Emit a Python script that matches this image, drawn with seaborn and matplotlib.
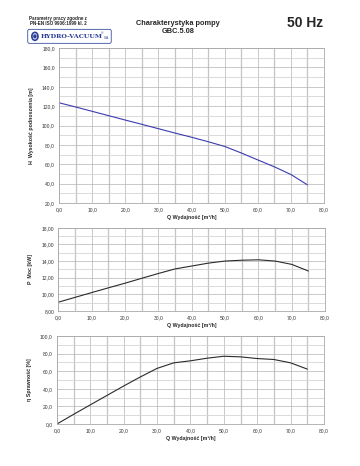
import matplotlib
matplotlib.use('Agg')
import matplotlib.pyplot as plt
import seaborn as sns
import pandas as pd
import numpy as np
from matplotlib.patches import FancyBboxPatch, Circle
from matplotlib.ticker import MultipleLocator, FuncFormatter

# Dane
q = [0, 5, 10, 15, 20, 25, 30, 35, 40, 45, 50, 55, 60, 65, 70, 75]
h = [123.5, 119.2, 114.7, 110.2, 105.7, 101.3, 96.8, 92.3, 88.0, 83.4, 78.5, 71.8, 64.6, 57.5, 49.6, 38.9]
p = [9.04, 9.62, 10.2, 10.77, 11.33, 11.92, 12.5, 13.05, 13.4, 13.75, 14.0, 14.1, 14.15, 14.0, 13.6, 12.8]
eta = [0.0, 11.0, 21.8, 32.5, 43.2, 53.5, 63.2, 69.5, 71.8, 74.8, 77.0, 76.3, 74.4, 73.3, 69.5, 62.4]

df = pd.DataFrame({'Q': q, 'H': h, 'P': p, 'eta': eta})

sns.set_style('white')
plt.rcParams['font.family'] = ['Liberation Sans', 'DejaVu Sans']

fig = plt.figure(figsize=(3.6, 4.66), dpi=100)

panels = [
    # kolumna, pozycja, zakres y, krok y, format, etykieta, kolor
    ('H', [0.164, 0.564, 0.736, 0.333], (20, 180), 20, 1, 'H  Wysokość podnoszenia [m]', '#3b3bb0'),
    ('P', [0.162, 0.333, 0.741, 0.178], (8, 18), 2, 2, 'P  Moc [kW]', '#2b2b2b'),
    ('eta', [0.158, 0.090, 0.742, 0.189], (0, 100), 20, 1, 'η Sprawność [%]', '#2b2b2b'),
]

def comma_fmt(dec):
    return FuncFormatter(lambda v, pos: f'{v:.{dec}f}'.replace('.', ','))

for col, rect, ylim, ystep, dec, ylabel, color in panels:
    ax = fig.add_axes(rect)
    sns.lineplot(data=df, x='Q', y=col, ax=ax, color=color, linewidth=0.8)
    ax.set_xlim(0, 80)
    ax.set_ylim(*ylim)
    ax.xaxis.set_major_locator(MultipleLocator(10))
    ax.xaxis.set_minor_locator(MultipleLocator(5))
    ax.yaxis.set_major_locator(MultipleLocator(ystep))
    ax.yaxis.set_minor_locator(MultipleLocator(ystep / 2))
    ax.xaxis.set_major_formatter(comma_fmt(1))
    ax.yaxis.set_major_formatter(comma_fmt(dec))
    ax.grid(True, which='major', color='#b4b4b4', linewidth=0.5)
    ax.grid(True, which='minor', axis='x', color='#c4c4c4', linewidth=0.9)
    ax.grid(True, which='minor', axis='y', color='#d4d4d4', linewidth=0.6)
    ax.set_axisbelow(True)
    ax.tick_params(which='both', length=0, labelsize=3.6, pad=3, colors='#333333')
    for s in ax.spines.values():
        s.set_color('#a8a8a8')
        s.set_linewidth(0.6)
    ax.set_xlabel('Q Wydajność [m³/h]', fontsize=3.8, fontweight='bold', labelpad=2)
    ax.set_ylabel(ylabel, fontsize=3.8, fontweight='bold', labelpad=6)

# Nagłówek
fig.text(0.081, 0.958, 'Parametry pracy zgodne z', fontsize=3.3, fontweight='bold')
fig.text(0.084, 0.946, 'PN-EN ISO 9906:1999 kl. 2', fontsize=3.3, fontweight='bold')
box = FancyBboxPatch((0.077, 0.907), 0.232, 0.030, boxstyle='round,pad=0,rounding_size=0.004',
                     transform=fig.transFigure, facecolor='white', edgecolor='#3a4fa0', linewidth=0.6)
fig.patches.append(box)
fig.patches.append(Circle((0.097, 0.922), 0.0085, transform=fig.transFigure,
                          facecolor='white', edgecolor='#2b3f95', linewidth=1.2))
fig.patches.append(Circle((0.097, 0.922), 0.003, transform=fig.transFigure,
                          facecolor='#2b3f95', edgecolor='#2b3f95'))
fig.text(0.114, 0.922, 'HYDRO-VACUUM', fontsize=4.6, fontweight='bold', color='#2b3f95',
         family='DejaVu Serif', va='center')
fig.text(0.279, 0.929, '®', fontsize=2.5, color='#2b3f95', va='center')
fig.text(0.288, 0.918, 'S.A.', fontsize=2.3, color='#2b3f95', va='center')

fig.text(0.495, 0.946, 'Charakterystyka pompy', fontsize=5.3, fontweight='bold', ha='center')
fig.text(0.495, 0.930, 'GBC.5.08', fontsize=5.3, fontweight='bold', ha='center')
fig.text(0.897, 0.943, '50 Hz', fontsize=10, fontweight='bold', ha='right')

fig.savefig('out.png', dpi=100, facecolor='white')
